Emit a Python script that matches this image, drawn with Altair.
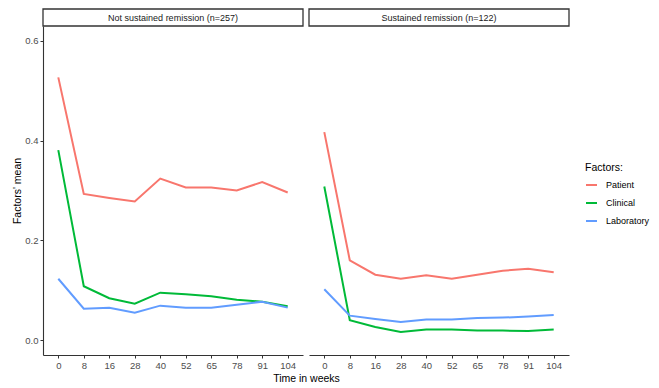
import altair as alt
import pandas as pd

weeks = ["0", "8", "16", "28", "40", "52", "65", "78", "91", "104"]
factors = ["Patient", "Clinical", "Laboratory"]
colors = ["#F8766D", "#00BA38", "#619CFF"]
groups = ["Not sustained remission (n=257)", "Sustained remission (n=122)"]

ns_patient = [0.527, 0.293, 0.285, 0.278, 0.324, 0.306, 0.306, 0.300, 0.317, 0.296]
ns_clinical = [0.381, 0.108, 0.084, 0.073, 0.095, 0.092, 0.088, 0.081, 0.077, 0.068]
ns_lab = [0.123, 0.063, 0.065, 0.055, 0.069, 0.065, 0.065, 0.071, 0.077, 0.065]

s_patient = [0.417, 0.160, 0.131, 0.123, 0.130, 0.123, 0.131, 0.139, 0.143, 0.136]
s_clinical = [0.308, 0.040, 0.026, 0.016, 0.021, 0.021, 0.019, 0.019, 0.018, 0.021]
s_lab = [0.102, 0.049, 0.042, 0.036, 0.041, 0.041, 0.044, 0.045, 0.047, 0.050]

series = {
    groups[0]: [ns_patient, ns_clinical, ns_lab],
    groups[1]: [s_patient, s_clinical, s_lab],
}

rows = []
for g in groups:
    for f, vals in zip(factors, series[g]):
        for w, v in zip(weeks, vals):
            rows.append({"group": g, "factor": f, "week": w, "value": v})
df = pd.DataFrame(rows)

W = 260
H = 346
STRIP = 17
FONT = "Liberation Sans"


def panel(g, first):
    d = df[df["group"] == g]
    if first:
        xaxis = alt.Axis(
            labelAngle=0,
            title="Time in weeks",
            titleX=263,
            titleAlign="center",
            titleAnchor="start",
            titleY=26,
            titleBaseline="alphabetic",
        )
        yaxis = alt.Axis(values=[0.0, 0.2, 0.4, 0.6], format=".1f",
                         title="Factors' mean", titlePadding=2)
    else:
        xaxis = alt.Axis(labelAngle=0, title=None)
        yaxis = None
    lines = alt.Chart(d).mark_line(strokeWidth=2).encode(
        x=alt.X("week:O", sort=weeks,
                scale=alt.Scale(type="point", padding=0.6),
                axis=xaxis),
        y=alt.Y("value:Q",
                scale=alt.Scale(domain=[-0.03, 0.63], range=[H, STRIP],
                                nice=False, zero=False),
                axis=yaxis),
        color=alt.Color("factor:N", sort=factors,
                        scale=alt.Scale(domain=factors, range=colors),
                        legend=alt.Legend(title="Factors:", symbolType="stroke",
                                          symbolStrokeWidth=2, symbolSize=121,
                                          labelOffset=8,
                                          orient="none", legendX=542, legendY=154,
                                          padding=0)),
    )
    sdf = pd.DataFrame({"label": [g]})
    rect = alt.Chart(sdf).mark_rect(fill="white", stroke="#333333", strokeWidth=1.3).encode(
        x=alt.value(0), x2=alt.value(W), y=alt.value(0), y2=alt.value(STRIP)
    )
    txt = alt.Chart(sdf).mark_text(fontSize=9, color="#1a1a1a", font=FONT).encode(
        x=alt.value(W / 2), y=alt.value(STRIP / 2 + 0.5), text="label:N"
    )
    return alt.layer(lines, rect, txt).properties(width=W, height=H)


chart = alt.hconcat(panel(groups[0], True), panel(groups[1], False),
                    spacing=6, bounds="flush").properties(
    padding={"left": 4, "top": 0, "right": 0, "bottom": -2}
).configure_view(stroke=None).configure_axis(
    domainColor="#333333",
    domainWidth=1.1,
    tickColor="#333333",
    tickSize=3,
    labelColor="#4d4d4d",
    labelFont=FONT,
    labelFontSize=9.5,
    titleFont=FONT,
    titleFontSize=10.5,
    titleFontWeight="normal",
    titleColor="#000000",
    grid=False,
    labelPadding=2,
).configure_legend(
    titleFont=FONT,
    titleFontSize=10.5,
    titleFontWeight="normal",
    titleColor="#000000",
    labelFont=FONT,
    labelFontSize=9,
    labelColor="#000000",
    rowPadding=6,
)

chart.save("out.html", embed_options={"renderer": "svg", "actions": False})
